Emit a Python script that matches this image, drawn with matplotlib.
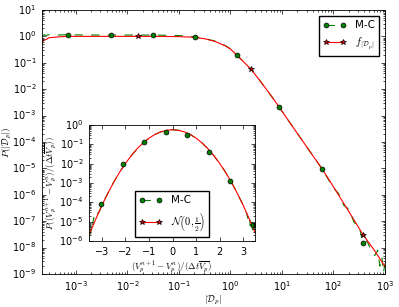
import matplotlib
matplotlib.use('Agg')
import numpy as np
import matplotlib.pyplot as plt
from matplotlib.lines import Line2D

# main panel: f_{|D_p|} (log10 x, log10 y)
f_logx = [-3.66, -3.63, -3.58, -3.52, -3.45, -3.35, -3.2, -2.5, -2.0, -1.5,
          -1.2, -1.0, -0.8, -0.69, -0.5, -0.3, -0.1, 0.0, 0.12, 0.25, 0.40,
          0.55, 0.70, 0.85, 0.95, 1.2, 1.5, 1.78, 2.0, 2.3, 2.57, 2.8, 3.0]
f_logy = [-0.28, -0.15, -0.12, -0.05, -0.04, -0.02, 0.0, 0.0, 0.0, 0.0,
          -0.005, -0.01, -0.025, -0.04, -0.09, -0.19, -0.36, -0.48, -0.70,
          -0.95, -1.25, -1.62, -2.01, -2.41, -2.69, -3.40, -4.24, -5.02,
          -5.70, -6.64, -7.50, -8.12, -8.72]

# main panel: Monte-Carlo histogram (log10 x, log10 y)
mc_logx = [-3.66, -3.62, -3.58, -3.5, -3.4, -3.2, -2.5, -2.0, -1.5, -1.2,
           -1.0, -0.8, -0.69, -0.5, -0.3, -0.1, 0.0, 0.12, 0.25, 0.40, 0.55,
           0.70, 0.85, 0.95, 1.2, 1.5, 1.78, 2.0, 2.1, 2.2, 2.3, 2.4, 2.5,
           2.57, 2.65, 2.72, 2.8, 2.86, 2.9, 2.94, 2.97, 3.0]
mc_logy = [0.0, 0.06, 0.04, 0.07, 0.05, 0.06, 0.05, 0.05, 0.05, 0.04,
           0.03, 0.01, -0.02, -0.08, -0.18, -0.35, -0.47, -0.70, -0.95,
           -1.25, -1.62, -2.01, -2.41, -2.69, -3.40, -4.24, -5.02, -5.75,
           -5.95, -6.40, -6.55, -7.05, -7.20, -7.83, -7.75, -8.05, -8.30,
           -8.10, -8.70, -8.35, -8.95, -8.60]

mc_mark_logx = [-3.16, -2.32, -1.50, -0.69, 0.12, 0.95, 1.78, 2.57]
mc_mark_logy = [0.05, 0.05, 0.05, -0.02, -0.70, -2.69, -5.02, -7.83]
f_mark_logx = [-1.80, 0.40, 2.57]
f_mark_logy = [0.0, -1.25, -7.52]

# inset: N(0, 1/2) density
g_x = [-3.55, -3.5, -3.25, -3.0, -2.75, -2.5, -2.25, -2.0, -1.75, -1.5,
       -1.25, -1.0, -0.75, -0.5, -0.25, 0.0, 0.25, 0.5, 0.75, 1.0, 1.25,
       1.5, 1.75, 2.0, 2.25, 2.5, 2.75, 3.0, 3.25, 3.5]
g_y = [1.9e-6, 2.7e-6, 1.46e-5, 7.0e-5, 2.9e-4, 1.09e-3, 3.57e-3, 1.03e-2,
       2.64e-2, 5.95e-2, 0.118, 0.208, 0.321, 0.439, 0.530, 0.564, 0.530,
       0.439, 0.321, 0.208, 0.118, 5.95e-2, 2.64e-2, 1.03e-2, 3.57e-3,
       1.09e-3, 2.9e-4, 7.0e-5, 1.46e-5, 2.7e-6]

# inset: Monte-Carlo increments
mcv_x = [-3.55, -3.52, -3.48, -3.45, -3.4, -3.35, -3.3, -3.2, -3.1, -3.0,
         -2.75, -2.5, -2.25, -2.0, -1.75, -1.5, -1.25, -1.0, -0.75, -0.5,
         -0.25, 0.0, 0.25, 0.5, 0.75, 1.0, 1.25, 1.5, 1.75, 2.0, 2.25, 2.5,
         2.75, 3.0, 3.1, 3.2, 3.25, 3.3, 3.35, 3.4, 3.45, 3.5]
mcv_y = [1.2e-6, 4.0e-6, 2.0e-6, 9.0e-6, 6.0e-6, 1.6e-5, 1.2e-5, 2.5e-5,
         3.5e-5, 7.5e-5, 2.9e-4, 1.1e-3, 3.6e-3, 1.03e-2, 2.6e-2, 5.9e-2,
         0.118, 0.208, 0.32, 0.44, 0.53, 0.565, 0.53, 0.44, 0.32, 0.208,
         0.118, 5.9e-2, 2.6e-2, 1.03e-2, 3.6e-3, 1.1e-3, 2.9e-4, 7.0e-5,
         4.0e-5, 1.5e-5, 2.5e-5, 6.0e-6, 1.4e-5, 3.0e-6, 8.0e-6, 1.5e-6]
mcv_mark_x = [-3.05, -2.1, -1.2, -0.27, 0.63, 1.55, 2.45, 3.4]
mcv_mark_y = [8.5e-5, 1.0e-2, 0.138, 0.45, 0.30, 4.2e-2, 1.3e-3, 6.5e-6]

plt.style.use('classic')
plt.rcParams['figure.facecolor'] = 'w'
plt.rcParams['savefig.facecolor'] = 'w'
plt.rcParams['axes.linewidth'] = 0.6
plt.rcParams['xtick.major.size'] = 3
plt.rcParams['ytick.major.size'] = 3
plt.rcParams['xtick.minor.size'] = 1.5
plt.rcParams['ytick.minor.size'] = 1.5
plt.rcParams['xtick.labelsize'] = 7
plt.rcParams['ytick.labelsize'] = 7

fig = plt.figure(figsize=(3.99, 3.07), dpi=100)
ax = fig.add_axes([0.1053, 0.1075, 0.8596, 0.86])

mc_x = 10 ** np.array(mc_logx)
mc_y = 10 ** np.array(mc_logy)
f_x = 10 ** np.array(f_logx)
f_y = 10 ** np.array(f_logy)

ax.plot(mc_x, mc_y, '--', color='g', lw=0.8)
ax.plot(f_x, f_y, '-', color='r', lw=0.8)
ax.plot(10 ** np.array(mc_mark_logx), 10 ** np.array(mc_mark_logy), 'o',
        mfc='g', mec='k', ms=3.5, mew=0.5)
ax.plot(10 ** np.array(f_mark_logx), 10 ** np.array(f_mark_logy), '*',
        mfc='r', mec='k', ms=4, mew=0.5)
ax.set_xscale('log')
ax.set_yscale('log')
ax.set_xlim(2.2e-4, 1e3)
ax.set_ylim(1e-9, 1e1)
ax.set_xlabel(r'$|\mathcal{D}_p|$', fontsize=7, labelpad=0)
ax.set_ylabel(r'$P(|\mathcal{D}_p|)$', fontsize=6.8)
ax.yaxis.set_label_coords(-0.081, 0.5)

h1 = Line2D([], [], ls='--', color='g', lw=0.8, marker='o', mfc='g',
            mec='k', ms=3.5, mew=0.5)
h2 = Line2D([], [], ls='-', color='r', lw=0.8, marker='*', mfc='r',
            mec='k', ms=4, mew=0.5)
ax.legend([h1, h2], ['M-C', r'$f_{|\mathcal{D}_p|}$'], loc='upper right',
          fontsize=7.5, numpoints=2, handlelength=2.2, borderaxespad=0.6,
          fancybox=False)

ins = fig.add_axes([0.223, 0.215, 0.416, 0.378])
ins.plot(mcv_x, mcv_y, '--', color='g', lw=0.8)
ins.plot(g_x, g_y, '-', color='r', lw=0.8)
ins.plot(mcv_mark_x, mcv_mark_y, 'o', mfc='g', mec='k', ms=3.5, mew=0.5)
ins.set_yscale('log')
ins.set_xlim(-3.55, 3.5)
ins.set_ylim(1e-6, 1)
ins.set_xticks([-3, -2, -1, 0, 1, 2, 3])
ins.set_xlabel(r'$(V_p^{n+1}-V_p^n)/(\Delta t\overline{V_p})$', fontsize=6.5,
               labelpad=2)
ins.set_ylabel(r'$P((V_p^{n+1}-V_p^n)/(\Delta t\overline{V_p}))$',
               fontsize=6.5, labelpad=0)
g1 = Line2D([], [], ls='--', color='g', lw=0.8, marker='o', mfc='g',
            mec='k', ms=3.5, mew=0.5)
g2 = Line2D([], [], ls='-', color='r', lw=0.8, marker='*', mfc='r',
            mec='k', ms=4, mew=0.5)
ins.legend([g1, g2], ['M-C', r'$\mathcal{N}\left(0,\frac{1}{2}\right)$'],
           loc='lower center', fontsize=7.5, numpoints=2, handlelength=2.2,
           borderaxespad=0.4, fancybox=False)

fig.savefig('out.png', dpi=100)
